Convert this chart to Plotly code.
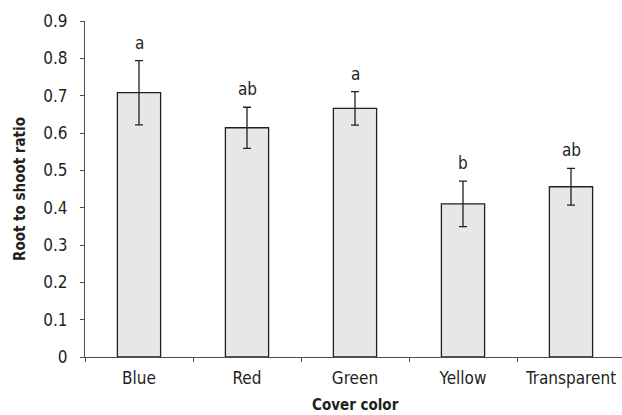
import plotly.graph_objects as go

categories = ["Blue", "Red", "Green", "Yellow", "Transparent"]
values = [0.708, 0.614, 0.666, 0.410, 0.456]
errors = [0.086, 0.055, 0.045, 0.061, 0.049]
letters = ["a", "ab", "a", "b", "ab"]
y_ticks = [0, 0.1, 0.2, 0.3, 0.4, 0.5, 0.6, 0.7, 0.8, 0.9]
y_tick_labels = ["0", "0.1", "0.2", "0.3", "0.4", "0.5", "0.6", "0.7", "0.8", "0.9"]

FONT = "DejaVu Sans Condensed, Liberation Sans Narrow, sans-serif"
AXIS = "#4d4d4d"

fig = go.Figure()
fig.add_trace(go.Bar(
    x=categories, y=values, width=0.4,
    marker=dict(color="#e6e7e8", line=dict(color="#231f20", width=1.3)),
    error_y=dict(type="data", array=errors, visible=True, color="#231f20",
                 thickness=1.3, width=4),
    showlegend=False,
))

for c, v, e, t in zip(categories, values, errors, letters):
    fig.add_annotation(x=c, y=v + e, text=t, showarrow=False, yanchor="bottom",
                       yshift=6, font=dict(family=FONT, size=17, color="#231f20"))

fig.add_annotation(xref="paper", yref="paper", x=(20 - 85) / 537, y=0.5,
                   text="<b>Root to shoot ratio</b>", textangle=-90, showarrow=False,
                   xanchor="center", yanchor="middle",
                   font=dict(family=FONT, size=15, color="#231f20"))
fig.add_annotation(xref="paper", yref="paper", x=(355 - 85) / 537, y=-(405 - 357) / 336,
                   text="<b>Cover color</b>", showarrow=False,
                   xanchor="center", yanchor="middle",
                   font=dict(family=FONT, size=15, color="#231f20"))

fig.update_layout(
    width=622, height=415,
    margin=dict(l=85, r=0, t=21, b=58),
    plot_bgcolor="white", paper_bgcolor="white",
    font=dict(family=FONT, size=17, color="#231f20"),
    xaxis=dict(range=[-0.5, -0.5 + 537 / 108], showline=True, linecolor=AXIS, linewidth=1.2,
               ticks="outside", tickson="boundaries", ticklen=4, tickcolor=AXIS,
               showgrid=False, zeroline=False, ticklabelstandoff=5, automargin=False),
    yaxis=dict(range=[0, 0.9], tickvals=y_ticks, ticktext=y_tick_labels,
               showline=True, linecolor=AXIS, linewidth=1.2,
               ticks="outside", ticklen=4, tickcolor=AXIS,
               showgrid=False, zeroline=False, ticklabelstandoff=9, automargin=False),
)

fig.write_html("out.html", config={"displayModeBar": False},
               post_script="document.body.style.margin='0';document.body.style.overflow='hidden';")
